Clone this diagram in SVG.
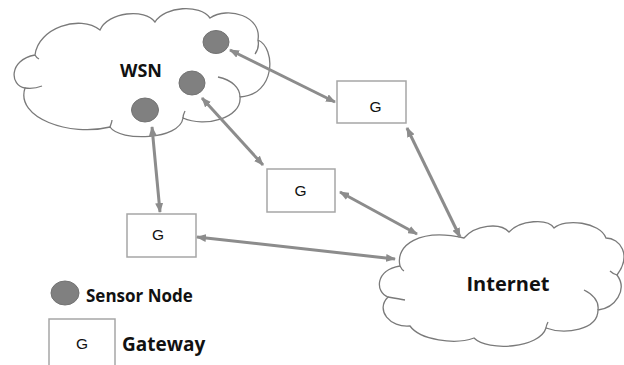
<svg xmlns="http://www.w3.org/2000/svg" width="624" height="365" viewBox="0 0 624 365">
  <defs>
    <marker id="head" viewBox="0 0 10 8" refX="9" refY="4" markerWidth="10" markerHeight="8" markerUnits="userSpaceOnUse" orient="auto-start-reverse">
      <path d="M0,0 L10,4 L0,8 Z" fill="#8c8c8c"/>
    </marker>
    <style>
      .cloud { fill: #ffffff; stroke: #7a7a7a; stroke-width: 1.3; }
      .inner { fill: none; stroke: #7a7a7a; stroke-width: 1.3; }
      .box { fill: #ffffff; stroke: #a6a6a6; stroke-width: 1.5; }
      .sensor { fill: #808080; stroke: #737373; stroke-width: 1; }
      .link { fill: none; stroke: #8c8c8c; stroke-width: 3; marker-start: url(#head); marker-end: url(#head); }
      .g { font-family: "Liberation Sans", Arial, sans-serif; font-size: 15.5px; fill: #111; text-anchor: middle; }
      .label { font-family: "Open Sans", "Liberation Sans", Arial, sans-serif; font-weight: bold; fill: #111; }
    </style>
  </defs>
  <rect width="624" height="365" fill="#ffffff"/>

  <!-- WSN cloud -->
  <g id="wsn">
    <path class="cloud" d="M25,88 C10,86 8,60 35,55 C38,28 80,14 100,30 C108,12 145,8 155,22 C165,6 200,4 210,18 C228,6 262,16 258,40 C276,48 276,95 240,97 C242,118 205,128 183,118 C180,140 120,142 110,127 C70,137 15,118 25,88 Z"/>
    <path class="inner" d="M25,88 C32,89 37,88 42,86 M110,127 C111,124 112,122 112,120 M183,118 C183,115 184,113 185,111 M240,97 C240,88 232,80 218,77 M258,40 C259,45 258,50 255,54 M35,55 C36,57 37,58 39,59"/>
    <text class="label" x="141" y="77" font-size="18" text-anchor="middle">WSN</text>
  </g>

  <!-- sensor nodes inside the WSN -->
  <g id="sensor-1"><ellipse class="sensor" cx="216" cy="42" rx="13" ry="11.5"/></g>
  <g id="sensor-2"><ellipse class="sensor" cx="192" cy="83" rx="13" ry="12"/></g>
  <g id="sensor-3"><ellipse class="sensor" cx="145" cy="110" rx="13.5" ry="12"/></g>

  <!-- Internet cloud -->
  <g id="internet">
    <path class="cloud" d="M400,266 C395,245 420,228 464,238 C475,225 500,222 509,232 C520,220 548,218 554,228 C565,218 600,222 606,238 C620,238 632,255 617,275 C628,290 615,308 598,310 C598,330 565,335 546,328 C540,348 488,352 474,338 C455,345 420,340 410,326 C390,328 375,310 388,297 C375,292 375,270 400,266 Z"/>
    <path class="inner" d="M388,297 C394,298 400,299 405,300 M400,266 C401,268 402,270 404,271 M598,310 C599,302 594,295 584,290 M617,275 C614,274 612,273 610,271 M546,328 C546,326 547,324 548,322"/>
    <text class="label" x="508" y="291" font-size="20" text-anchor="middle">Internet</text>
  </g>

  <!-- gateways -->
  <g id="gateway-1">
    <rect class="box" x="337" y="81" width="69" height="42"/>
    <text class="g" x="375.5" y="112">G</text>
  </g>
  <g id="gateway-2">
    <rect class="box" x="267" y="169" width="68" height="43"/>
    <text class="g" x="300.5" y="196">G</text>
  </g>
  <g id="gateway-3">
    <rect class="box" x="127" y="214" width="69" height="43"/>
    <text class="g" x="158" y="240">G</text>
  </g>

  <!-- links -->
  <g id="links">
    <path class="link" d="M230,50 L335,102"/>
    <path class="link" d="M202,98 L263,165"/>
    <path class="link" d="M152,127 L160,212"/>
    <path class="link" d="M407,128 L460,237"/>
    <path class="link" d="M340,192 L417,234"/>
    <path class="link" d="M197,237 L395,259"/>
  </g>

  <!-- legend -->
  <g id="legend-sensor">
    <ellipse class="sensor" cx="65" cy="293" rx="14" ry="12"/>
    <text class="label" x="86" y="302" font-size="17">Sensor Node</text>
  </g>
  <g id="legend-gateway">
    <rect class="box" x="49" y="319" width="66" height="52"/>
    <text class="g" x="82" y="349" font-size="14.5">G</text>
    <text class="label" x="122" y="351" font-size="19">Gateway</text>
  </g>
</svg>
